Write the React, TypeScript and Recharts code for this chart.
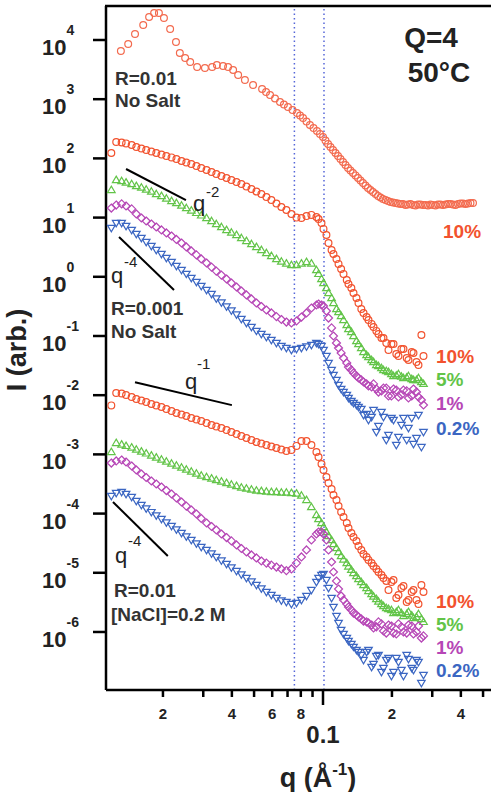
import React from 'react'
import { ScatterChart, Scatter, XAxis, YAxis, ReferenceLine } from 'recharts'

const FONT = '"Liberation Sans", Arial, Helvetica, sans-serif'
const RED = '#f2522e'
const RED_LIGHT = '#f36a4e'
const GREEN = '#62c448'
const PURPLE = '#b646b6'
const BLUE = '#3b66c2'
const DOT = '#5566d8'

// q grid (1/Å) shared by the R=0.001 and NaCl series
const qGrid = [
  0.0119, 0.0125, 0.0132, 0.0138, 0.0146, 0.0153, 0.0161, 0.0169, 0.0178, 0.0187,
  0.0197, 0.0207, 0.0218, 0.0229, 0.0241, 0.0253, 0.0266, 0.028, 0.0294, 0.031,
  0.0326, 0.0342, 0.036, 0.0379, 0.0398, 0.0419, 0.044, 0.0463, 0.0487, 0.0512,
  0.0538, 0.0566, 0.0595, 0.0626, 0.0658, 0.0692, 0.0728, 0.0766, 0.0805, 0.0847,
  0.089, 0.0936, 0.0985, 0.1035, 0.109, 0.1145, 0.12, 0.127, 0.133, 0.14,
  0.147, 0.155, 0.163, 0.171, 0.18, 0.189, 0.199, 0.209, 0.22, 0.232,
  0.244, 0.256, 0.269,
]
// extra high-q readings (the data get dense there)
const qHi = [
  0.0956, 0.1005, 0.1057, 0.1111, 0.1169, 0.1229, 0.1292, 0.1359, 0.1429, 0.1503,
  0.158, 0.1662, 0.1747, 0.1837, 0.1932, 0.2032, 0.2136, 0.2246, 0.2362, 0.2484,
  0.2612, 0.2747,
]

// R=0.01, no salt, 10%
const topQ = [
  0.0131, 0.0141, 0.0151, 0.0164, 0.0174, 0.0183, 0.0192, 0.0202, 0.0215, 0.0228,
  0.0237, 0.025, 0.0263, 0.0282, 0.0305, 0.0328, 0.0344, 0.0366, 0.0385, 0.0405,
  0.0426, 0.0456, 0.0495, 0.0542, 0.0587, 0.0649, 0.0703, 0.077, 0.0818, 0.0877,
  0.0941, 0.1, 0.1052, 0.1106, 0.1163, 0.1223, 0.1286, 0.1352, 0.1422, 0.1495,
  0.1572, 0.1653, 0.1739, 0.1828, 0.1922, 0.2021, 0.2125, 0.2236, 0.2351, 0.2472,
  0.2599, 0.2733, 0.2874, 0.3022, 0.3178, 0.3342, 0.3515, 0.3696, 0.3886, 0.4087,
  0.4297, 0.4519,
]
const topI = [
  6520, 8560, 12600, 17900, 24500, 28600, 28600, 23500, 15300, 9250,
  6030, 4960, 4250, 3500, 3370, 3500, 3780, 3640, 3500, 3110,
  2560, 2110, 1740, 1490, 1180, 897, 738, 585, 481, 367,
  290, 230, 175, 139, 110, 87.0, 68.8, 56.7, 46.6, 38.4,
  31.6, 27.1, 23.2, 20.6, 19.1, 18.0, 17.3, 17.0, 16.6, 16.3,
  16.6, 16.3, 16.0, 16.3, 16.6, 16.3, 17.0, 16.6, 17.0, 17.3,
  17.3, 17.6,
]
const topQHi = [
  0.0564, 0.0617, 0.0675, 0.0736, 0.0794, 0.0847, 0.0909, 0.097,
  0.1025, 0.1078, 0.1134, 0.1192, 0.1254, 0.1318, 0.1387, 0.1458, 0.1533, 0.1612,
  0.1696, 0.1783, 0.1875, 0.1971, 0.2073, 0.218, 0.2293, 0.2411, 0.2534, 0.2665,
  0.2803, 0.2947, 0.3099, 0.3259, 0.3427, 0.3604, 0.3789, 0.3985, 0.4191, 0.4407,
]
const topIHi = [
  1320, 1030, 814, 657, 531, 420, 326, 258,
  200, 156, 123, 97.7, 77.4, 62.5, 51.6, 42.3, 34.9, 29.3,
  25.0, 21.9, 19.8, 18.3, 17.6, 17.0, 16.3, 17.0, 16.0, 16.6,
  16.3, 16.6, 16.0, 16.6, 16.6, 17.0, 16.3, 17.3, 17.0, 17.6,
]

// R=0.001, no salt
const mid10 = [
  123, 189, 186, 179, 168, 156, 147, 139, 131, 123,
  116, 110, 104, 97.7, 90.3, 85.2, 80.4, 74.4, 68.8, 63.6,
  58.9, 54.5, 50.4, 46.6, 43.2, 39.9, 36.9, 33.5, 30.4, 27.6,
  25.0, 22.3, 19.8, 17.3, 15.1, 13.4, 11.5, 10.0, 9.84, 10.6,
  11.1, 10.2, 8.1, 5.09, 2.84, 2.0, 1.35, 0.883, 0.647, 0.438,
  0.286, 0.209, 0.16, 0.122, 0.0925, 0.076, 0.0732, 0.0496, 0.0603, 0.0425,
  0.0536, 0.0364, 0.104,
]
const mid10Hi = [
  9.45, 6.44, 3.72, 2.43, 1.65, 1.12, 0.755, 0.532, 0.361, 0.245,
  0.186, 0.142, 0.108, 0.0925, 0.058, 0.0732, 0.0459, 0.0603, 0.0393, 0.0517,
  0.0324, 0.0459,
]
const mid5 = [
  29.3, 43.2, 41.5, 39.2, 36.9, 34.2, 32.2, 29.8, 27.6, 25.0,
  23.2, 21.0, 19.1, 17.6, 16.0, 14.5, 13.2, 12.0, 10.9, 9.84,
  8.76, 7.79, 6.93, 6.18, 5.6, 5.09, 4.52, 4.03, 3.58, 3.19,
  2.84, 2.52, 2.25, 2.0, 1.81, 1.68, 1.58, 1.58, 1.68, 1.78,
  1.68, 1.3, 0.918, 0.647, 0.438, 0.286, 0.218, 0.153, 0.117, 0.0822,
  0.0627, 0.0477, 0.0393, 0.0324, 0.0288, 0.0256, 0.0228, 0.0215, 0.0207, 0.0199,
  0.0188, 0.0181, 0.0167,
]
const mid5Hi = [
  1.12, 0.785, 0.532, 0.361, 0.254, 0.186, 0.131, 0.1, 0.0732, 0.0536,
  0.0441, 0.0364, 0.0311, 0.0266, 0.0247, 0.0211, 0.0228, 0.0195, 0.0211, 0.0181,
  0.0195, 0.0155,
]
const mid1 = [
  14.5, 16.3, 17.0, 15.7, 14.0, 11.5, 9.84, 8.76, 7.79, 6.93,
  6.18, 5.5, 4.89, 4.27, 3.72, 3.19, 2.73, 2.34, 2.0, 1.71,
  1.46, 1.25, 1.07, 0.918, 0.785, 0.672, 0.575, 0.493, 0.422, 0.361,
  0.315, 0.275, 0.245, 0.213, 0.19, 0.172, 0.166, 0.179, 0.209, 0.245,
  0.297, 0.334, 0.334, 0.264, 0.137, 0.076, 0.0517, 0.035, 0.0266, 0.0211,
  0.0181, 0.0155, 0.0138, 0.0127, 0.0118, 0.0132, 0.0097, 0.0122, 0.0101, 0.0118,
  0.0097, 0.0113, 0.0083,
]
const mid1Hi = [
  0.347, 0.321, 0.201, 0.1, 0.0627, 0.0425, 0.0299, 0.0237, 0.0195, 0.0167,
  0.0143, 0.0155, 0.0113, 0.0132, 0.0097, 0.0127, 0.00933, 0.0122, 0.00897, 0.0127,
  0.00933, 0.00683,
]
const mid02 = [
  6.68, 8.1, 8.1, 7.21, 6.18, 5.28, 4.52, 3.87, 3.31, 2.84,
  2.43, 2.08, 1.78, 1.52, 1.3, 1.12, 0.954, 0.817, 0.699, 0.598,
  0.512, 0.43, 0.368, 0.315, 0.27, 0.231, 0.194, 0.166, 0.142, 0.122,
  0.108, 0.096, 0.0857, 0.076, 0.0676, 0.0627, 0.058, 0.0603, 0.0627, 0.0664,
  0.0705, 0.076, 0.0676, 0.0459, 0.0266, 0.0181, 0.0127, 0.0101, 0.00797, 0.00683,
  0.00585, 0.00481, 0.00428, 0.00239, 0.0052, 0.00175, 0.00412, 0.00144, 0.00314, 0.00175,
  0.00412, 0.00189, 0.00133,
]
const mid02Hi = [
  0.0732, 0.058, 0.035, 0.0219, 0.0149, 0.0113, 0.00897, 0.00738, 0.00632, 0.00463,
  0.00381, 0.00562, 0.00302, 0.00428, 0.00213, 0.00381, 0.00197, 0.00412, 0.00279, 0.0015,
  0.00463, 0.00239,
]

// R=0.01, [NaCl]=0.2 M
const salt10 = [
  6.72e-3, 1.09e-2, 1.07e-2, 1.01e-2, 9.33e-3, 8.62e-3, 8.14e-3, 7.68e-3, 7.1e-3, 6.7e-3,
  6.32e-3, 5.85e-3, 5.41e-3, 5.0e-3, 4.72e-3, 4.45e-3, 4.12e-3, 3.89e-3, 3.67e-3, 3.39e-3,
  3.14e-3, 2.96e-3, 2.79e-3, 2.58e-3, 2.39e-3, 2.21e-3, 2.04e-3, 1.89e-3, 1.75e-3, 1.62e-3,
  1.53e-3, 1.44e-3, 1.36e-3, 1.28e-3, 1.21e-3, 1.14e-3, 1.19e-3, 1.39e-3, 1.68e-3, 1.68e-3,
  1.44e-3, 1.1e-3, 6.88e-4, 4.15e-4, 2.6e-4, 1.7e-4, 1.06e-4, 6.93e-5, 4.7e-5, 3.45e-5,
  2.43e-5, 1.85e-5, 1.46e-5, 1.16e-5, 9.18e-6, 7.27e-6, 6.99e-6, 3.75e-6, 5.54e-6, 3.21e-6,
  4.74e-6, 3.47e-6, 6.22e-6,
]
const salt10Hi = [
  9.03e-4, 5.45e-4, 3.29e-4, 2.06e-4, 1.34e-4, 8.76e-5, 5.71e-5, 4.03e-5, 2.84e-5, 2.08e-5,
  1.65e-5, 1.3e-5, 1.03e-5, 8.17e-6, 5.12e-6, 7.55e-6, 4.22e-6, 5.98e-6, 3.47e-6, 5.12e-6,
  2.97e-6, 4.74e-6,
]
const salt5 = [
  1.1e-3, 1.56e-3, 1.47e-3, 1.39e-3, 1.31e-3, 1.21e-3, 1.12e-3, 1.04e-3, 9.6e-4, 8.87e-4,
  8.2e-4, 7.58e-4, 7.01e-4, 6.49e-4, 6.0e-4, 5.55e-4, 5.13e-4, 4.75e-4, 4.39e-4, 4.15e-4,
  3.92e-4, 3.69e-4, 3.49e-4, 3.29e-4, 3.1e-4, 2.93e-4, 2.76e-4, 2.65e-4, 2.55e-4, 2.45e-4,
  2.41e-4, 2.36e-4, 2.32e-4, 2.32e-4, 2.27e-4, 2.27e-4, 2.23e-4, 2.19e-4, 2.02e-4, 1.7e-4,
  1.29e-4, 9.45e-5, 6.93e-5, 4.89e-5, 3.58e-5, 2.62e-5, 1.92e-5, 1.46e-5, 1.12e-5, 8.83e-6,
  6.99e-6, 5.54e-6, 4.38e-6, 3.61e-6, 2.97e-6, 2.54e-6, 2.35e-6, 2.18e-6, 2.09e-6, 2.01e-6,
  1.9e-6, 1.79e-6, 1.66e-6,
]
const salt5Hi = [
  8.1e-5, 5.94e-5, 4.18e-5, 3.06e-5, 2.25e-5, 1.68e-5, 1.28e-5, 9.9e-6, 7.85e-6, 6.22e-6,
  4.93e-6, 3.98e-6, 3.27e-6, 2.75e-6, 2.45e-6, 2.09e-6, 2.35e-6, 1.86e-6, 2.18e-6, 1.72e-6,
  2.01e-6, 1.48e-6,
]
const salt1 = [
  7.14e-4, 7.74e-4, 8.04e-4, 7.44e-4, 6.36e-4, 5.45e-4, 4.66e-4, 4.07e-4, 3.55e-4, 3.16e-4,
  2.81e-4, 2.45e-4, 2.14e-4, 1.84e-4, 1.57e-4, 1.34e-4, 1.15e-4, 9.84e-5, 8.26e-5, 6.93e-5,
  6.05e-5, 5.28e-5, 4.52e-5, 3.94e-5, 3.45e-5, 2.95e-5, 2.57e-5, 2.25e-5, 2.0e-5, 1.78e-5,
  1.58e-5, 1.46e-5, 1.35e-5, 1.25e-5, 1.16e-5, 1.09e-5, 1.16e-5, 1.46e-5, 1.85e-5, 2.43e-5,
  3.58e-5, 4.52e-5, 4.89e-5, 3.58e-5, 1.52e-5, 7.27e-6, 4.06e-6, 2.97e-6, 2.35e-6, 1.94e-6,
  1.66e-6, 1.48e-6, 1.31e-6, 1.22e-6, 1.37e-6, 9.6e-7, 1.26e-6, 9.25e-7, 1.22e-6, 9.6e-7,
  1.26e-6, 1.0e-6, 7.9e-7,
]
const salt1Hi = [
  4.89e-5, 4.52e-5, 2.43e-5, 1.03e-5, 5.32e-6, 3.47e-6, 2.64e-6, 2.09e-6, 1.79e-6, 1.53e-6,
  1.42e-6, 1.17e-6, 1.48e-6, 1.04e-6, 1.31e-6, 9.6e-7, 1.37e-6, 1.0e-6, 1.31e-6, 9.25e-7,
  1.26e-6, 8.57e-7,
]
const salt02 = [
  1.98e-4, 2.23e-4, 2.32e-4, 2.14e-4, 1.91e-4, 1.63e-4, 1.4e-4, 1.22e-4, 1.06e-4, 9.29e-5,
  8.1e-5, 7.07e-5, 6.18e-5, 5.39e-5, 4.7e-5, 4.1e-5, 3.58e-5, 3.13e-5, 2.73e-5, 2.43e-5,
  2.12e-5, 1.85e-5, 1.61e-5, 1.41e-5, 1.23e-5, 1.07e-5, 9.36e-6, 8.17e-6, 7.13e-6, 6.22e-6,
  5.43e-6, 4.74e-6, 4.22e-6, 3.75e-6, 3.4e-6, 3.21e-6, 2.97e-6, 3.09e-6, 3.47e-6, 4.06e-6,
  5.12e-6, 6.99e-6, 9.18e-6, 7.55e-6, 3.75e-6, 1.86e-6, 1.08e-6, 7.9e-7, 6.27e-7, 4.96e-7,
  4.09e-7, 4.59e-7, 2.56e-7, 3.93e-7, 2.11e-7, 3.37e-7, 1.81e-7, 3.64e-7, 2.28e-7, 4.09e-7,
  2.47e-7, 3.37e-7, 1.38e-7,
]
const salt02Hi = [
  8.17e-6, 9.54e-6, 5.54e-6, 2.64e-6, 1.42e-6, 9.25e-7, 7.05e-7, 5.6e-7, 4.59e-7, 3.37e-7,
  4.96e-7, 2.88e-7, 4.09e-7, 2.47e-7, 3.64e-7, 2.11e-7, 3.11e-7, 1.81e-7, 3.5e-7, 2.28e-7,
  3.11e-7, 1.88e-7,
]

const xTicks = [0.02, 0.03, 0.04, 0.05, 0.06, 0.07, 0.08, 0.09, 0.1, 0.2, 0.3, 0.4, 0.5]
const xTickLabels = ['2', '', '4', '', '6', '', '8', '', '0.1', '2', '', '4', '']
const yTicks = [1e-6, 1e-5, 1e-4, 1e-3, 1e-2, 1e-1, 1e0, 1e1, 1e2, 1e3, 1e4]
const yTickExps = ['-6', '-5', '-4', '-3', '-2', '-1', '0', '1', '2', '3', '4']

const X_DOMAIN = [0.01128, 0.5416]
const Y_DOMAIN = [1.047e-7, 3.752e4]

const toPoints = (qs: number[], vals: number[], qs2: number[] = [], vals2: number[] = []) => [
  ...qs.map((q, i) => ({ q, I: vals[i] })),
  ...qs2.map((q, i) => ({ q, I: vals2[i] })),
]

const SW = 1.2
const circle = (color: string) => (p: any) => (
  <circle cx={p.cx} cy={p.cy} r={3.4} fill="none" stroke={color} strokeWidth={SW} />
)
const diamond = (color: string) => (p: any) => (
  <path
    d={`M${p.cx},${p.cy - 4}L${p.cx + 4},${p.cy}L${p.cx},${p.cy + 4}L${p.cx - 4},${p.cy}Z`}
    fill="none"
    stroke={color}
    strokeWidth={SW}
  />
)
const triUp = (color: string) => (p: any) => (
  <path
    d={`M${p.cx},${p.cy - 3.8}L${p.cx + 3.8},${p.cy + 2.6}L${p.cx - 3.8},${p.cy + 2.6}Z`}
    fill="none"
    stroke={color}
    strokeWidth={SW}
  />
)
const triDown = (color: string) => (p: any) => (
  <path
    d={`M${p.cx - 3.8},${p.cy - 2.6}L${p.cx + 3.8},${p.cy - 2.6}L${p.cx},${p.cy + 3.8}Z`}
    fill="none"
    stroke={color}
    strokeWidth={SW}
  />
)

const XTick = (props: any) => {
  const { x, y, payload } = props
  const i = xTicks.findIndex((t) => Math.abs(t - payload.value) < 1e-9)
  const major = payload.value === 0.1
  const label = xTickLabels[i]
  return (
    <g>
      <line x1={x} x2={x} y1={y} y2={y + (major ? 15 : 7)} stroke="#000" strokeWidth={2.5} />
      {label && !major && (
        <text x={x} y={y + 29} textAnchor="middle" fontSize={15} fontWeight="bold" fontFamily={FONT} fill="#222">
          {label}
        </text>
      )}
      {major && (
        <text x={x} y={y + 53} textAnchor="middle" fontSize={24} fontWeight="bold" fontFamily={FONT} fill="#222">
          {label}
        </text>
      )}
    </g>
  )
}

const YTick = (props: any) => {
  const { x, y, payload } = props
  const i = yTicks.findIndex((t) => Math.abs(Math.log10(t) - Math.log10(payload.value)) < 1e-6)
  return (
    <text x={x - 51} y={y + 15} fontSize={22} fontWeight="bold" fontFamily={FONT} fill="#222">
      10
      <tspan dy={-20} fontSize={14}>
        {yTickExps[i]}
      </tspan>
    </text>
  )
}

const txt = { fontFamily: FONT, fontWeight: 'bold' as const }

export default function App() {
  return (
    <div style={{ position: 'relative', width: 491, height: 792, background: '#fff', overflow: 'hidden' }}>
      <style>{'body{margin:0}'}</style>
      <ScatterChart width={491} height={792} margin={{ top: 6, right: 0, bottom: 0, left: 0 }}>
        <XAxis
          type="number"
          dataKey="q"
          scale="log"
          domain={X_DOMAIN}
          allowDataOverflow
          ticks={xTicks}
          interval={0}
          tick={(p: any) => <XTick {...p} />}
          tickLine={false}
          tickSize={0}
          tickMargin={0}
          axisLine={{ stroke: '#000', strokeWidth: 2.5 }}
          height={102}
        />
        <YAxis
          type="number"
          dataKey="I"
          scale="log"
          domain={Y_DOMAIN}
          allowDataOverflow
          ticks={yTicks}
          interval={0}
          tick={(p: any) => <YTick {...p} />}
          tickSize={13}
          tickMargin={0}
          tickLine={{ stroke: '#000', strokeWidth: 2.5 }}
          axisLine={{ stroke: '#000', strokeWidth: 2.5 }}
          width={106}
        />
        <ReferenceLine x={0.075} stroke={DOT} strokeWidth={1.5} strokeDasharray="1.5 3" />
        <ReferenceLine x={0.101} stroke={DOT} strokeWidth={1.5} strokeDasharray="1.5 3" />
        <ReferenceLine segment={[{ x: 0.0138, y: 66.2 }, { x: 0.0252, y: 19.8 }]} stroke="#000" strokeWidth={2} />
        <ReferenceLine segment={[{ x: 0.01286, y: 4.7 }, { x: 0.02235, y: 0.6 }]} stroke="#000" strokeWidth={2} />
        <ReferenceLine segment={[{ x: 0.0151, y: 0.0166 }, { x: 0.04, y: 0.0068 }]} stroke="#000" strokeWidth={2} />
        <ReferenceLine segment={[{ x: 0.0121, y: 1.57e-4 }, { x: 0.021, y: 1.92e-5 }]} stroke="#000" strokeWidth={2} />

        <Scatter data={toPoints(topQ, topI, topQHi, topIHi)} shape={circle(RED_LIGHT)} isAnimationActive={false} />
        <Scatter data={toPoints(qGrid, mid10, qHi, mid10Hi)} shape={circle(RED)} isAnimationActive={false} />
        <Scatter data={toPoints(qGrid, mid5, qHi, mid5Hi)} shape={triUp(GREEN)} isAnimationActive={false} />
        <Scatter data={toPoints(qGrid, mid1, qHi, mid1Hi)} shape={diamond(PURPLE)} isAnimationActive={false} />
        <Scatter data={toPoints(qGrid, mid02, qHi, mid02Hi)} shape={triDown(BLUE)} isAnimationActive={false} />
        <Scatter data={toPoints(qGrid, salt10, qHi, salt10Hi)} shape={circle(RED)} isAnimationActive={false} />
        <Scatter data={toPoints(qGrid, salt5, qHi, salt5Hi)} shape={triUp(GREEN)} isAnimationActive={false} />
        <Scatter data={toPoints(qGrid, salt1, qHi, salt1Hi)} shape={diamond(PURPLE)} isAnimationActive={false} />
        <Scatter data={toPoints(qGrid, salt02, qHi, salt02Hi)} shape={triDown(BLUE)} isAnimationActive={false} />
      </ScatterChart>

      <svg width={491} height={792} style={{ position: 'absolute', left: 0, top: 0, pointerEvents: 'none' }}>
        <line x1={105} x2={491} y1={6} y2={6} stroke="#000" strokeWidth={2.5} />

        <text x={431} y={47} textAnchor="middle" fontSize={28} {...txt} fill="#222">Q=4</text>
        <text x={439} y={82} textAnchor="middle" fontSize={28} {...txt} fill="#222">50°C</text>

        <text x={115} y={85} fontSize={19} {...txt} fill="#333">R=0.01</text>
        <text x={115} y={107} fontSize={19} {...txt} fill="#333">No Salt</text>
        <text x={111} y={315} fontSize={19} {...txt} fill="#333">R=0.001</text>
        <text x={111} y={338} fontSize={19} {...txt} fill="#333">No Salt</text>
        <text x={114} y={597} fontSize={19} {...txt} fill="#333">R=0.01</text>
        <text x={111} y={621} fontSize={19} {...txt} fill="#333">[NaCl]=0.2 M</text>

        <text x={193} y={211} fontSize={22} fontFamily={FONT} fill="#222">q</text>
        <text x={206} y={197} fontSize={15} fontFamily={FONT} fill="#222">-2</text>
        <text x={111} y={283} fontSize={22} fontFamily={FONT} fill="#222">q</text>
        <text x={124} y={267} fontSize={15} fontFamily={FONT} fill="#222">-4</text>
        <text x={185} y={389} fontSize={22} fontFamily={FONT} fill="#222">q</text>
        <text x={197} y={369} fontSize={15} fontFamily={FONT} fill="#222">-1</text>
        <text x={115} y={563} fontSize={22} fontFamily={FONT} fill="#222">q</text>
        <text x={128} y={546} fontSize={15} fontFamily={FONT} fill="#222">-4</text>

        <text x={443} y={238} fontSize={19} {...txt} fill={RED}>10%</text>
        <text x={436} y={363} fontSize={19} {...txt} fill={RED}>10%</text>
        <text x={436} y={386} fontSize={19} {...txt} fill={GREEN}>5%</text>
        <text x={436} y={410} fontSize={19} {...txt} fill={PURPLE}>1%</text>
        <text x={436} y={435} fontSize={19} {...txt} fill={BLUE}>0.2%</text>
        <text x={436} y={608} fontSize={19} {...txt} fill={RED}>10%</text>
        <text x={436} y={631} fontSize={19} {...txt} fill={GREEN}>5%</text>
        <text x={436} y={654} fontSize={19} {...txt} fill={PURPLE}>1%</text>
        <text x={436} y={677} fontSize={19} {...txt} fill={BLUE}>0.2%</text>

        <text transform="translate(17,350) rotate(-90)" textAnchor="middle" dominantBaseline="central" fontSize={27} {...txt} fill="#222">
          I (arb.)
        </text>
        <text x={318} y={787} textAnchor="middle" fontSize={27} {...txt} fill="#222">
          q (Å<tspan dy={-12} fontSize={17}>-1</tspan><tspan dy={12}>)</tspan>
        </text>
      </svg>
    </div>
  )
}
